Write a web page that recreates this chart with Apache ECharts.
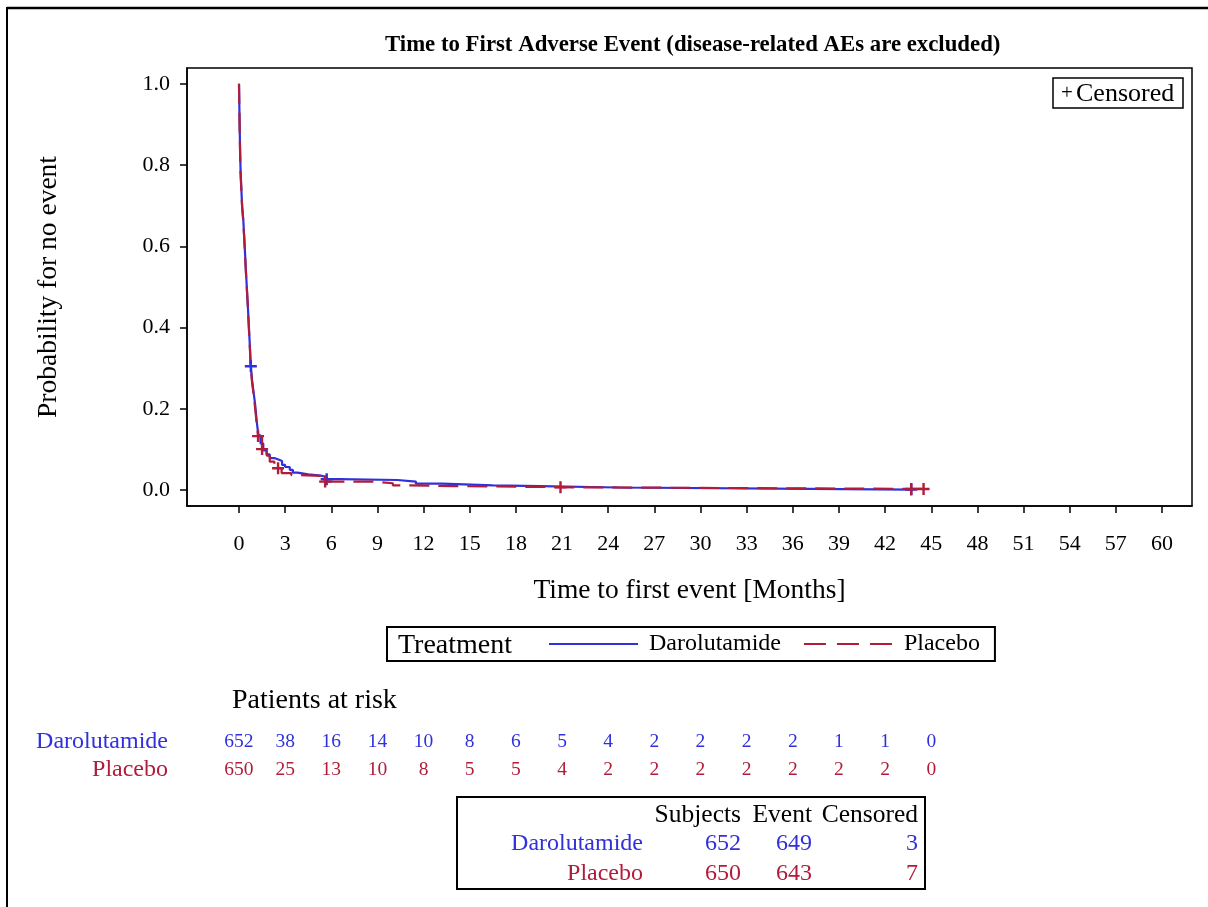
<!DOCTYPE html>
<html><head><meta charset="utf-8">
<script src="https://cdn.jsdelivr.net/npm/echarts@6/dist/echarts.min.js"></script>
<style>html,body{margin:0;padding:0;background:#fff}#c{width:1208px;height:907px}</style>
</head><body><div id="c"></div>
<script>
// ---- data ----
const xTicks = [0,3,6,9,12,15,18,21,24,27,30,33,36,39,42,45,48,51,54,57,60];
const yTicks = [0,0.2,0.4,0.6,0.8,1.0];
const groups = ['Darolutamide','Placebo'];

const daroTime = [0,0.03,0.06,0.1,0.2,0.28,0.37,0.45,0.55,0.62,0.7,0.76,0.85,0.95,1.04,1.15,1.26,1.4,1.58,1.8,2.0,2.3,2.6,2.8,3.0,3.3,3.5,3.8,4.5,5.3,5.7,6.5,10.3,11.5,13.2,16.5,19.6,24.6,37.1,43.7];
const daroSurv = [1.0,0.93,0.86,0.79,0.70,0.665,0.60,0.54,0.47,0.42,0.36,0.31,0.27,0.24,0.214,0.17,0.135,0.115,0.098,0.088,0.079,0.075,0.072,0.062,0.057,0.050,0.043,0.039,0.036,0.032,0.027,0.025,0.021,0.016,0.012,0.010,0.0065,0.003,0.0015,0.0015];

const plTime = [0,0.03,0.06,0.1,0.2,0.28,0.37,0.45,0.55,0.62,0.7,0.76,0.85,0.95,1.04,1.15,1.24,1.5,1.8,2.0,2.3,2.54,2.77,3.4,4.0,5.3,5.6,8.7,10.0,11.0,13.9,22.0,44.5];
const plSurv = [1.0,0.92,0.85,0.78,0.70,0.66,0.60,0.535,0.47,0.415,0.355,0.305,0.265,0.235,0.205,0.165,0.133,0.101,0.085,0.070,0.062,0.054,0.042,0.037,0.035,0.030,0.021,0.017,0.012,0.010,0.007,0.003,0.003];

const daroCensTime = [0.77,5.7,43.7];
const daroCensSurv = [0.305,0.027,0.0015];
const plCensTime = [1.24,1.5,2.54,5.6,20.9,43.7,44.5];
const plCensSurv = [0.133,0.101,0.054,0.021,0.007,0.003,0.003];

const riskTimes = [0,3,6,9,12,15,18,21,24,27,30,33,36,39,42,45];
const daroRisk = [652,38,16,14,10,8,6,5,4,2,2,2,2,1,1,0];
const plRisk   = [650,25,13,10,8,5,5,4,2,2,2,2,2,2,2,0];

const summaryHeader = ['Subjects','Event','Censored'];
const daroSummary = [652,649,3];
const plSummary   = [650,643,7];

// ---- style ----
const FONT = "'Liberation Serif','Times New Roman',serif";
const BLUE = '#3030dc';
const RED = '#b01c3a';
const PLUS = 'path://M4,0H6V4H10V6H6V10H4V6H0V4H4Z';

const zip = (a,b) => a.map((v,i)=>[v,b[i]]);

const chart = echarts.init(document.getElementById('c'), null, {renderer:'canvas'});

function txt(x,y,text,opt){
  return {type:'text', x, y, silent:true, style:Object.assign({text, font:'24px '+FONT, fill:'#000', textVerticalAlign:'middle'}, opt||{})};
}

const option = {
  backgroundColor:'#fff',
  animation:false,
  title:{
    text:'Time to First Adverse Event (disease-related AEs are excluded)',
    left:380, top:29,
    textStyle:{fontFamily:FONT, fontWeight:'bold', fontSize:22.8, color:'#000'}
  },
  grid:[
    {left:187, right:16, top:68, bottom:401, show:true, borderColor:'#000', borderWidth:1.5, backgroundColor:'transparent'},
    {left:187, right:16, top:728, height:56, show:false}
  ],
  xAxis:[
    {type:'value', gridIndex:0, min:-3.38, max:61.95,
     name:'Time to first event [Months]', nameLocation:'middle', nameGap:71,
     nameTextStyle:{fontFamily:FONT, fontSize:27.5, color:'#000'},
     axisLine:{show:true, onZero:false, lineStyle:{color:'#000', width:1.5}},
     axisTick:{show:true, length:7, customValues:xTicks, lineStyle:{color:'#000', width:1.5}},
     axisLabel:{show:true, customValues:xTicks, margin:27, fontFamily:FONT, fontSize:22, color:'#000'},
     splitLine:{show:false}},
    {type:'value', gridIndex:1, min:-3.38, max:61.95, show:false}
  ],
  yAxis:[
    {type:'value', gridIndex:0, min:-0.039, max:1.039,
     name:'Probability for no event', nameLocation:'middle', nameGap:124, nameRotate:90,
     nameTextStyle:{fontFamily:FONT, fontSize:27.5, color:'#000'},
     axisLine:{show:true, onZero:false, lineStyle:{color:'#000', width:1.5}},
     axisTick:{show:true, length:7, customValues:yTicks, lineStyle:{color:'#000', width:1.5}},
     axisLabel:{show:true, customValues:yTicks, margin:17, fontFamily:FONT, fontSize:22, color:'#000',
       formatter:v=>Number(v).toFixed(1)},
     splitLine:{show:false}},
    {type:'category', gridIndex:1, data:groups, inverse:true, boundaryGap:true,
     axisLine:{show:false}, axisTick:{show:false}, splitLine:{show:false},
     axisLabel:{show:true, interval:0, margin:19, fontFamily:FONT, fontSize:24,
       color:(v)=> v==='Darolutamide'?BLUE:RED}}
  ],
  legend:{
    data:[{name:groups[0]}, {name:groups[1], lineStyle:{type:[22,11]}}],
    left:387, top:627, orient:'horizontal',
    padding:[5,15,5,161], itemGap:22, itemWidth:89, itemHeight:14,
    borderColor:'#000', borderWidth:2,
    itemStyle:{opacity:0},
    formatter:n=>' '+n,
    textStyle:{fontFamily:FONT, fontSize:24, color:'#000'}
  },
  series:[
    {name:'Darolutamide', type:'line', xAxisIndex:0, yAxisIndex:0, step:'end', symbol:'none',
     data:zip(daroTime,daroSurv), lineStyle:{color:BLUE, width:2.2}, itemStyle:{color:BLUE}, z:2},
    {name:'Placebo', type:'line', xAxisIndex:0, yAxisIndex:0, step:'end', symbol:'none',
     data:zip(plTime,plSurv), lineStyle:{color:RED, width:2.2, type:[20,9]}, itemStyle:{color:RED}, z:3},
    {name:'Darolutamide censored', type:'scatter', xAxisIndex:0, yAxisIndex:0, symbol:PLUS, symbolSize:12,
     data:zip(daroCensTime,daroCensSurv), itemStyle:{color:BLUE, opacity:1}, z:4},
    {name:'Placebo censored', type:'scatter', xAxisIndex:0, yAxisIndex:0, symbol:PLUS, symbolSize:12,
     data:zip(plCensTime,plCensSurv), itemStyle:{color:RED, opacity:1}, z:5},
    {name:'Darolutamide at risk', type:'scatter', xAxisIndex:1, yAxisIndex:1, symbolSize:1,
     itemStyle:{color:'rgba(0,0,0,0)', opacity:1},
     data:riskTimes.map((t,i)=>[t,'Darolutamide',daroRisk[i]]),
     label:{show:true, position:'inside', formatter:p=>String(p.value[2]), fontFamily:FONT, fontSize:19.5, color:BLUE}},
    {name:'Placebo at risk', type:'scatter', xAxisIndex:1, yAxisIndex:1, symbolSize:1,
     itemStyle:{color:'rgba(0,0,0,0)', opacity:1},
     data:riskTimes.map((t,i)=>[t,'Placebo',plRisk[i]]),
     label:{show:true, position:'inside', formatter:p=>String(p.value[2]), fontFamily:FONT, fontSize:19.5, color:RED}}
  ],
  graphic:[
    // outer frame (left and top edges)
    {type:'line', silent:true, shape:{x1:7, y1:8, x2:1208, y2:8}, style:{stroke:'#000', lineWidth:2.5}},
    {type:'line', silent:true, shape:{x1:7, y1:7, x2:7, y2:907}, style:{stroke:'#000', lineWidth:2}},
    // censored key
    {type:'rect', silent:true, shape:{x:1053, y:78, width:130, height:30}, style:{fill:'#fff', stroke:'#000', lineWidth:1.5}},
    txt(1061, 93, '+', {font:'21px '+FONT}),
    txt(1076, 94, 'Censored', {font:'26px '+FONT}),
    // legend title
    txt(398, 646, 'Treatment', {font:'28px '+FONT}),
    // at-risk title
    txt(232, 701, 'Patients at risk', {font:'28px '+FONT}),
    // summary table
    {type:'rect', silent:true, shape:{x:457, y:797, width:468, height:92}, style:{fill:'#fff', stroke:'#000', lineWidth:2}},
    txt(741, 815, summaryHeader[0], {textAlign:'right', font:'25.5px '+FONT}),
    txt(812, 815, summaryHeader[1], {textAlign:'right', font:'25.5px '+FONT}),
    txt(918, 815, summaryHeader[2], {textAlign:'right', font:'25.5px '+FONT}),
    txt(643, 844, groups[0], {textAlign:'right', fill:BLUE}),
    txt(741, 844, String(daroSummary[0]), {textAlign:'right', fill:BLUE}),
    txt(812, 844, String(daroSummary[1]), {textAlign:'right', fill:BLUE}),
    txt(918, 844, String(daroSummary[2]), {textAlign:'right', fill:BLUE}),
    txt(643, 874, groups[1], {textAlign:'right', fill:RED}),
    txt(741, 874, String(plSummary[0]), {textAlign:'right', fill:RED}),
    txt(812, 874, String(plSummary[1]), {textAlign:'right', fill:RED}),
    txt(918, 874, String(plSummary[2]), {textAlign:'right', fill:RED})
  ]
};
chart.setOption(option);
</script></body></html>
